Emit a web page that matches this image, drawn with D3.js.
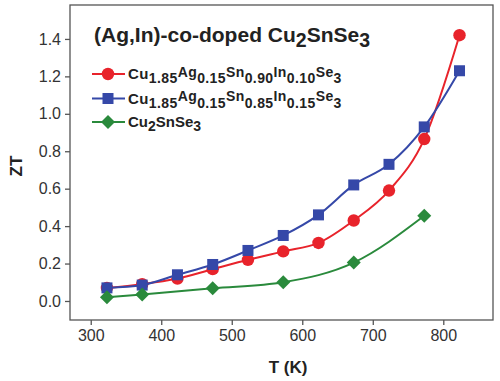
<!DOCTYPE html>
<html><head><meta charset="utf-8">
<script src="https://cdn.jsdelivr.net/npm/d3@7/dist/d3.min.js"></script>
<style>body{margin:0;background:#fff;}svg{display:block;font-family:"Liberation Sans",Arial,sans-serif;}</style>
</head><body>
<svg id="c" width="500" height="381"></svg>
<script>
const tempsA = [323, 373, 423, 473, 523, 573, 623, 673, 723, 773, 823];
const ztIn10 = [0.07, 0.09, 0.12, 0.17, 0.22, 0.265, 0.31, 0.43, 0.59, 0.865, 1.42];
const ztIn15 = [0.07, 0.085, 0.14, 0.195, 0.27, 0.35, 0.46, 0.62, 0.73, 0.93, 1.23];
const tempsB = [323, 373, 473, 573, 673, 773];
const ztPure = [0.02, 0.035, 0.068, 0.10, 0.205, 0.455];
const xTicks = [300, 400, 500, 600, 700, 800];
const yTicks = [0.0, 0.2, 0.4, 0.6, 0.8, 1.0, 1.2, 1.4];

const svg = d3.select("#c");
const L = 70, R = 493, T = 5, B = 320;
const x = d3.scaleLinear().domain([270.6, 870.5]).range([L, R]);
const y = d3.scaleLinear().domain([-0.1016, 1.5813]).range([B, T]);

const frame = "#555";
svg.append("rect").attr("x", L).attr("y", T).attr("width", R - L).attr("height", B - T)
  .attr("fill", "none").attr("stroke", frame).attr("stroke-width", 1.3);

const xa = svg.append("g").attr("transform", `translate(0,${B})`)
  .call(d3.axisBottom(x).tickValues(xTicks).tickSize(5).tickPadding(5).tickFormat(d3.format("d")));
const ya = svg.append("g").attr("transform", `translate(${L},0)`)
  .call(d3.axisLeft(y).tickValues(yTicks).tickSize(5).tickPadding(4).tickFormat(d3.format(".1f")));
[xa, ya].forEach(a => {
  a.select(".domain").remove();
  a.selectAll("line").attr("stroke", frame).attr("stroke-width", 1.3);
  a.selectAll("text").attr("fill", "#333").style("font-size", "16px").style("font-family", "Liberation Sans, Arial, sans-serif");
});

svg.append("text").attr("x", 288).attr("y", 373).attr("text-anchor", "middle")
  .style("font-weight", "bold").style("font-size", "17px").attr("fill", "#222").text("T (K)");
svg.append("text").attr("transform", `translate(22,166) rotate(-90)`).attr("text-anchor", "middle")
  .style("font-weight", "bold").style("font-size", "17px").attr("fill", "#222").text("ZT");

const red = "#e8232b", blue = "#3548a8", green = "#2a8a3c";
const line = d3.line().curve(d3.curveMonotoneX);

function series(xs, ys, color, shape) {
  const pts = xs.map((t, i) => [x(t), y(ys[i])]);
  svg.append("path").attr("d", line(pts)).attr("fill", "none").attr("stroke", color).attr("stroke-width", 2);
  pts.forEach(p => marker(p[0], p[1], color, shape));
}
function marker(cx, cy, color, shape) {
  if (shape === "circle") {
    svg.append("circle").attr("cx", cx).attr("cy", cy).attr("r", 6.2).attr("fill", color);
  } else if (shape === "square") {
    svg.append("rect").attr("x", cx - 5.5).attr("y", cy - 5.5).attr("width", 11).attr("height", 11).attr("fill", color);
  } else {
    const s = 7;
    svg.append("path").attr("d", `M${cx},${cy - s}L${cx + s},${cy}L${cx},${cy + s}L${cx - s},${cy}Z`).attr("fill", color);
  }
}

series(tempsA, ztIn10, red, "circle");
series(tempsA, ztIn15, blue, "square");
series(tempsB, ztPure, green, "diamond");

// Title
const title = svg.append("text").attr("x", 94).attr("y", 42).attr("fill", "#222")
  .style("font-weight", "bold").style("font-size", "21px");
title.append("tspan").text("(Ag,In)-co-doped Cu");
title.append("tspan").attr("dy", 5).style("font-size", "19.5px").text("2");
title.append("tspan").attr("dy", -5).text("SnSe");
title.append("tspan").attr("dy", 5).style("font-size", "19.5px").text("3");

// Legend: level 0 = first element, 1 = subscript number, 2 = raised element
const legend = [
  {color: red, shape: "circle", y: 74, ls: 0.4, parts: [["Cu",0],["1.85",1],["Ag",2],["0.15",1],["Sn",2],["0.90",1],["In",2],["0.10",1],["Se",2],["3",1]]},
  {color: blue, shape: "square", y: 98.5, ls: 0.4, parts: [["Cu",0],["1.85",1],["Ag",2],["0.15",1],["Sn",2],["0.85",1],["In",2],["0.15",1],["Se",2],["3",1]]},
  {color: green, shape: "diamond", y: 122, ls: 0, parts: [["Cu",0],["2",1],["SnSe",0],["3",1]]}
];
const off = {0: 5, 1: 9, 2: 2.5};
legend.forEach(e => {
  svg.append("line").attr("x1", 92).attr("x2", 125).attr("y1", e.y).attr("y2", e.y).attr("stroke", e.color).attr("stroke-width", 2);
  marker(108, e.y, e.color, e.shape);
  const t = svg.append("text").attr("x", 128).attr("y", e.y + off[0]).attr("fill", "#222")
    .style("font-weight", "bold").style("font-size", "15px").style("letter-spacing", e.ls + "px");
  let prev = 0;
  e.parts.forEach(([s, lvl]) => {
    t.append("tspan").attr("dy", off[lvl] - off[prev]).style("font-size", lvl === 0 ? "15px" : "14px").text(s);
    prev = lvl;
  });
});
</script>
</body></html>
